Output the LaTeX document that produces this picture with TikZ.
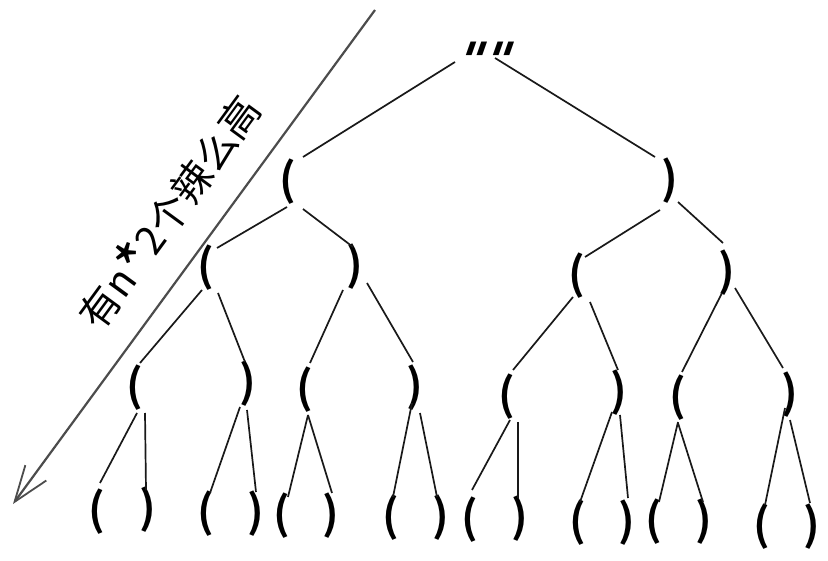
\documentclass[tikz,border=0pt]{standalone}
\usepackage{fontspec}
\setmainfont{Noto Sans CJK SC}
\newfontfamily\cjk{Noto Sans CJK SC}
\newfontfamily\cjkbold{Noto Sans CJK SC Bold}
\newfontfamily\quotefont[FakeSlant=0.35]{DejaVu Sans Bold}
\usetikzlibrary{calc,arrows.meta}
\tikzset{
  paren/.style={inner sep=0pt,font=\cjkbold\fontsize{44}{44}\selectfont},
  rootq/.style={inner sep=0pt,font=\quotefont\fontsize{50}{50}\selectfont},
  edge/.style={line width=1.7pt,draw=black!90},
  bigarrow/.style={line width=2.2pt,draw=black!70,-{Straight Barb[length=36pt,width=26pt,line width=1.8pt]}},
  sidetext/.style={inner sep=0pt,font=\cjk\fontsize{40}{40}\selectfont,rotate=53.8}
}
\newcommand{\edg}[6]{\draw[edge] ($(#1)+(#2,#3)$) -- ($(#4)+(#5,#6)$);}
\begin{document}
\begin{tikzpicture}[x=1pt,y=-1pt]
\useasboundingbox (0,0) rectangle (828,561);
% arrow and side text
\coordinate (atop) at (375,10);
\coordinate (atip) at (13,504);
\draw[bigarrow] (atop) -- (atip);
\node[sidetext] (side) at (172,214) {有n\raisebox{-0.3em}{\fontsize{62}{62}\selectfont *}2个辣么高};
% nodes
\node[rootq] (r) at (480,60) {""};
\node[paren] (a) at (288,182) {(};
\node[paren] (b) at (670,181) {)};
\node[paren] (aa) at (206,268) {(};
\node[paren] (ab) at (355,267) {)};
\node[paren] (ba) at (577,276) {(};
\node[paren] (bb) at (727,273) {)};
\node[paren] (aaa) at (135,388) {(};
\node[paren] (aab) at (248,384) {)};
\node[paren] (aba) at (305,390) {(};
\node[paren] (abb) at (415,388) {)};
\node[paren] (baa) at (507,397) {(};
\node[paren] (bab) at (619,393) {)};
\node[paren] (bba) at (678,398) {(};
\node[paren] (bbb) at (790,395) {)};
\node[paren] (l1) at (97,512) {(};
\node[paren] (l2) at (148,510) {)};
\node[paren] (l3) at (206,514) {(};
\node[paren] (l4) at (256,514) {)};
\node[paren] (l5) at (282,516) {(};
\node[paren] (l6) at (331,516) {)};
\node[paren] (l7) at (391,518) {(};
\node[paren] (l8) at (441,518) {)};
\node[paren] (l9) at (470,520) {(};
\node[paren] (l10) at (520,519) {)};
\node[paren] (l11) at (578,523) {(};
\node[paren] (l12) at (627,523) {)};
\node[paren] (l13) at (654,522) {(};
\node[paren] (l14) at (704,522) {)};
\node[paren] (l15) at (762,527) {(};
\node[paren] (l16) at (812,527) {)};
% edges
\edg{r}{-25}{2}{a}{15}{-25}
\edg{r}{15}{-2}{b}{-15}{-24}
\edg{a}{-1}{25}{aa}{11}{-20}
\edg{a}{15}{27}{ab}{-2}{-20}
\edg{b}{-10}{29}{ba}{8}{-19}
\edg{b}{8}{21}{bb}{-4}{-30}
\edg{aa}{-4}{22}{aaa}{5}{-25}
\edg{aa}{12}{25}{aab}{-3}{-22}
\edg{ab}{-12}{23}{aba}{5}{-27}
\edg{ab}{12}{16}{abb}{-2}{-26}
\edg{ba}{-4}{21}{baa}{6}{-27}
\edg{ba}{13}{26}{bab}{-1}{-23}
\edg{bb}{-5}{20}{bba}{4}{-26}
\edg{bb}{8}{15}{bbb}{-7}{-27}
\edg{aaa}{2}{25}{l1}{3}{-29}
\edg{aaa}{10}{25}{l2}{-2}{-20}
\edg{aab}{-8}{23}{l3}{4}{-21}
\edg{aab}{-1}{26}{l4}{0}{-22}
\edg{aba}{3}{25}{l5}{6}{-19}
\edg{aba}{3}{25}{l6}{1}{-23}
\edg{abb}{-3}{15}{l7}{2}{-21}
\edg{abb}{5}{25}{l8}{-4}{-21}
\edg{baa}{3}{23}{l9}{2}{-30}
\edg{baa}{11}{25}{l10}{-2}{-21}
\edg{bab}{-7}{19}{l11}{2}{-21}
\edg{bab}{1}{22}{l12}{1}{-25}
\edg{bba}{0}{24}{l13}{5}{-20}
\edg{bba}{0}{25}{l14}{-1}{-20}
\edg{bbb}{-5}{13}{l15}{3}{-22}
\edg{bbb}{0}{25}{l16}{-2}{-24}
\end{tikzpicture}
\end{document}
